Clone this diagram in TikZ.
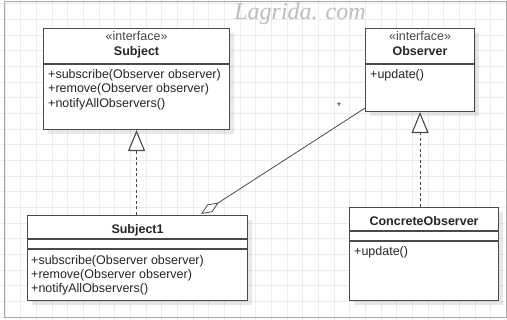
\documentclass[tikz,border=0pt]{standalone}
\usepackage{fontspec}
\setmainfont{Liberation Sans}
\newfontfamily\marcafont{Liberation Serif}
\usetikzlibrary{arrows.meta, positioning, calc, shadows}
\definecolor{umlLine}{HTML}{4A4A4A}
\definecolor{umlText}{HTML}{262626}
\definecolor{gridGray}{HTML}{ECECEC}
\definecolor{frameGray}{HTML}{A8A8A8}
\definecolor{markGray}{HTML}{BDBDBD}

\begin{document}
\begin{tikzpicture}[x=1pt, y=1pt, font=\fontsize{12.5}{14.5}\selectfont,
    clase/.style={rectangle, draw=umlLine, line width=1.1pt, fill=white,
      anchor=north west, inner sep=0pt,
      drop shadow={shadow xshift=4pt, shadow yshift=-4pt, fill=black, opacity=0.09}},
    separa/.style={draw=umlLine, line width=1.1pt},
    estereo/.style={anchor=base, text=umlText!85},
    titulo/.style={anchor=base, font=\fontsize{12.5}{14.5}\selectfont\bfseries, text=umlText},
    metodo/.style={anchor=base west, text=umlText, inner sep=0pt},
    realiza/.style={draw=umlLine, line width=1.1pt, dash pattern=on 3pt off 2.5pt,
      -{Triangle[open, length=21pt, width=17pt, fill=white]}},
    agrega/.style={draw=umlLine, line width=0.8pt,
      {Diamond[open, length=21pt, width=9pt, fill=white]}-},
    rejilla/.style={draw=gridGray, line width=0.8pt}]
  \useasboundingbox (0,0) rectangle (507,320);
  % fondo con rejilla
  \fill[white] (0,0) rectangle (507,320);
  \foreach \gx in {0,...,31}
    \draw[rejilla] ({5+15.67*\gx},0) -- ++(0,320);
  \foreach \gy in {0,...,20}
    \draw[rejilla] (0,{316.4-15.67*\gy}) -- ++(507,0);
  \draw[frameGray, line width=1pt] (4,2) rectangle (506,318);
  % marca de agua
  \node[font=\marcafont\itshape\fontsize{24}{28}\selectfont, text=markGray]
    (marca) at (300,306) {Lagrida. com};

  % interfaz Subject
  \node[clase, minimum width=186, minimum height=101] (sub) at (43,292) {};
  \node[estereo] (subEst) at ($(sub.north)+(0,-13)$) {«interface»};
  \node[titulo] (subNom) at ($(sub.north)+(0,-27.5)$) {Subject};
  \draw[separa] ($(sub.north west)+(0,-36)$) -- ($(sub.north east)+(0,-36)$);
  \node[metodo] (subM1) at ($(sub.north west)+(5,-50.5)$) {+subscribe(Observer observer)};
  \node[metodo] (subM2) at ($(sub.north west)+(5,-65)$) {+remove(Observer observer)};
  \node[metodo] (subM3) at ($(sub.north west)+(5,-79.5)$) {+notifyAllObservers()};

  % interfaz Observer
  \node[clase, minimum width=109, minimum height=83] (obs) at (365,292) {};
  \node[estereo] (obsEst) at ($(obs.north)+(0,-13)$) {«interface»};
  \node[titulo] (obsNom) at ($(obs.north)+(0,-27.5)$) {Observer};
  \draw[separa] ($(obs.north west)+(0,-36)$) -- ($(obs.north east)+(0,-36)$);
  \node[metodo] (obsM1) at ($(obs.north west)+(5,-50.5)$) {+update()};

  % clase Subject1
  \node[clase, minimum width=220, minimum height=85] (sub1) at (27,105) {};
  \node[titulo] (sub1Nom) at ($(sub1.north)+(0,-18.5)$) {Subject1};
  \draw[separa] ($(sub1.north west)+(0,-24)$) -- ($(sub1.north east)+(0,-24)$);
  \draw[separa] ($(sub1.north west)+(0,-34)$) -- ($(sub1.north east)+(0,-34)$);
  \node[metodo] (sub1M1) at ($(sub1.north west)+(4,-50)$) {+subscribe(Observer observer)};
  \node[metodo] (sub1M2) at ($(sub1.north west)+(4,-64)$) {+remove(Observer observer)};
  \node[metodo] (sub1M3) at ($(sub1.north west)+(4,-78)$) {+notifyAllObservers()};

  % clase ConcreteObserver
  \node[clase, minimum width=149, minimum height=93] (cobs) at (349,113) {};
  \node[titulo] (cobsNom) at ($(cobs.north)+(0,-18.5)$) {ConcreteObserver};
  \draw[separa] ($(cobs.north west)+(0,-24)$) -- ($(cobs.north east)+(0,-24)$);
  \draw[separa] ($(cobs.north west)+(0,-34)$) -- ($(cobs.north east)+(0,-34)$);
  \node[metodo] (cobsM1) at ($(cobs.north west)+(5,-49)$) {+update()};

  % realizaciones
  \draw[realiza] (sub1.north -| sub.south) -- (sub.south);
  \draw[realiza] (cobs.north -| obs.south) -- (obs.south);

  % agregacion Subject1 -> Observer
  \coordinate (agrIni) at ($(sub1.north west)+(174,1)$);
  \coordinate (agrFin) at ($(obs.south west)+(0,4)$);
  \draw[agrega] (agrIni) -- (agrFin);
  \node[font=\fontsize{10}{12}\selectfont, text=umlText] (mult) at (339,214) {*};
\end{tikzpicture}
\end{document}
